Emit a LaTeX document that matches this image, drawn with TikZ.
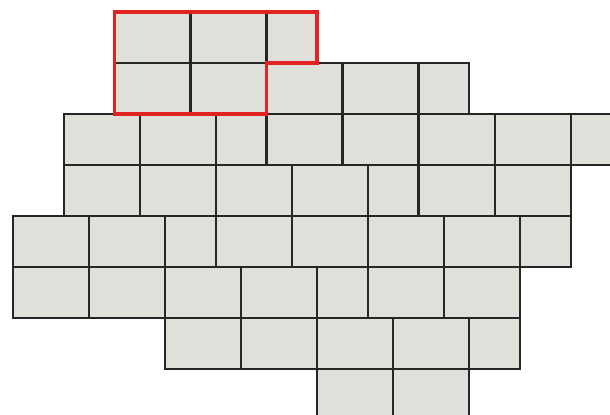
\documentclass[tikz,border=0pt]{standalone}
\usepackage{tikz}
\definecolor{tilegray}{HTML}{E0E0DB}
\definecolor{tileedge}{HTML}{262626}
\definecolor{markred}{HTML}{E32222}
% rows of tiles: row / list of start/end columns
\newcommand{\tilerows}{
  0/{4/7,7/10,10/12},
  1/{4/7,7/10,10/13,13/16,16/18},
  2/{2/5,5/8,8/10,10/13,13/16,16/19,19/22,22/25},
  3/{2/5,5/8,8/11,11/14,14/16,16/19,19/22},
  4/{0/3,3/6,6/8,8/11,11/14,14/17,17/20,20/22},
  5/{0/3,3/6,6/9,9/12,12/14,14/17,17/20},
  6/{6/9,9/12,12/15,15/18,18/20},
  7/{12/15,15/18}}
\begin{document}
\begin{tikzpicture}[
  x=19.01pt, y=-19.125pt,
  tilefill/.style={fill=tilegray},
  tileline/.style={draw=tileedge, line width=1.7pt},
  selection/.style={draw=markred, line width=2.8pt, line join=miter}
]
  \useasboundingbox (-0.513,-0.47) rectangle (23.55,15.8);
  \clip (-0.513,-0.47) rectangle (23.55,15.8);
  % fill first, then outlines on top
  \foreach \r/\tiles in \tilerows {
    \foreach \a/\b in \tiles {
      \fill[tilefill] (\a,2*\r) rectangle (\b,2*\r+2);
    }
  }
  \foreach \r/\tiles in \tilerows {
    \foreach \a/\b in \tiles {
      \draw[tileline] (\a,2*\r) rectangle (\b,2*\r+2);
    }
  }
  % selected block
  \draw[selection] (4,0) -- (12,0) -- (12,2) -- (10,2) -- (10,4) -- (4,4) -- cycle;
\end{tikzpicture}
\end{document}
